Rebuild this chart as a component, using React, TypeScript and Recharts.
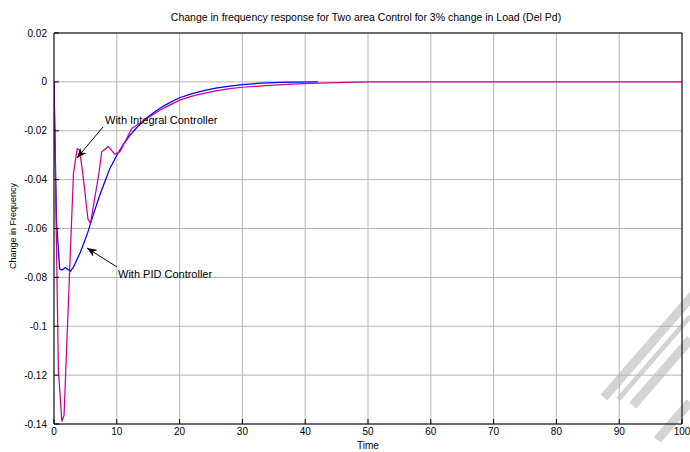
import React from 'react';
import { LineChart, Line, XAxis, YAxis, CartesianGrid } from 'recharts';

// With Integral Controller (magenta)
const integralT = [0, 0.7, 1.25, 1.6, 2.6, 3.1, 3.7, 4.1, 4.7, 5.4, 5.8, 7.15, 7.6, 8.65, 9.7, 10.5, 11.6, 12.4, 13.7, 15.3, 16.9, 18.5, 20, 22, 24, 26, 28, 30, 32, 35, 38, 41, 45, 50, 60, 70, 80, 90, 100];
const integralV = [0, -0.118, -0.139, -0.1365, -0.07, -0.0375, -0.0273, -0.028, -0.04, -0.056, -0.058, -0.0375, -0.0286, -0.0265, -0.0296, -0.0286, -0.0231, -0.019, -0.0169, -0.0142, -0.0115, -0.0094, -0.0075, -0.0058, -0.0046, -0.0036, -0.0028, -0.0022, -0.0018, -0.0013, -0.0009, -0.0006, -0.0003, 0, 0, 0, 0, 0, 0];

// With PID Controller (blue)
const pidT = [0, 0.4, 0.9, 1.3, 1.8, 2.6, 3.1, 4.2, 5.3, 6.3, 7.2, 8, 8.9, 10, 11, 12, 13, 14, 15, 16, 17, 18, 19, 20, 22, 24, 26, 28, 30, 33, 36, 39, 42];
const pidV = [0, -0.057, -0.0765, -0.077, -0.076, -0.0775, -0.0758, -0.0697, -0.0622, -0.054, -0.047, -0.0415, -0.0354, -0.03, -0.0258, -0.0222, -0.0192, -0.0166, -0.0143, -0.0123, -0.0106, -0.0091, -0.0077, -0.0065, -0.0048, -0.0035, -0.0025, -0.0017, -0.0011, -0.0005, -0.0002, -0.0001, 0];

const xTicks = [0, 10, 20, 30, 40, 50, 60, 70, 80, 90, 100];
const yTicks = [0.02, 0, -0.02, -0.04, -0.06, -0.08, -0.1, -0.12, -0.14];

const title = 'Change in frequency response for Two area Control for 3% change in Load (Del Pd)';
const xLabel = 'Time';
const yLabel = 'Change in Frequency';
const integralNote = 'With Integral Controller';
const pidNote = 'With PID Controller';

const integralData = integralT.map((t, i) => ({ t, v: integralV[i] }));
const pidData = pidT.map((t, i) => ({ t, v: pidV[i] }));

const FONT = '"Liberation Sans", Arial, Helvetica, sans-serif';
const tickStyle = { fontSize: 10, fill: '#000', fontFamily: FONT };

export default function App() {
  return (
    <div style={{ position: 'absolute', left: 0, top: 0, width: 690, height: 452, background: '#fff', fontFamily: FONT }}>
      {/* faint watermark stripes behind the chart */}
      <svg width={690} height={452} style={{ position: 'absolute', left: 0, top: 0 }}>
        <g transform="matrix(0.656 -0.755 0.755 0.656 0 0)" fill="#d4d4d4">
          <rect x={96} y={712} width={136} height={9} />
          <rect x={104} y={726} width={110} height={5} />
          <rect x={109} y={739} width={88} height={9} />
          <rect x={99} y={780} width={50} height={9} />
        </g>
      </svg>
      <div style={{ position: 'absolute', left: 0, top: 0 }}>
        <LineChart width={690} height={452} margin={{ top: 32, right: 7, bottom: 27, left: 53 }}>
          <CartesianGrid xAxisId="b" yAxisId="l" stroke="#b4b4b4" strokeWidth={1} />
          <XAxis xAxisId="b" type="number" dataKey="t" domain={[0, 100]} ticks={xTicks} height={1}
            axisLine={{ stroke: '#000' }} tickLine={{ stroke: '#000' }} tickSize={-5} tickMargin={9}
            tick={tickStyle} allowDataOverflow interval={0} />
          <XAxis xAxisId="t" orientation="top" type="number" dataKey="t" domain={[0, 100]} ticks={xTicks} height={1}
            axisLine={{ stroke: '#000' }} tickLine={{ stroke: '#000' }} tickSize={-5} tick={false} allowDataOverflow interval={0} />
          <YAxis yAxisId="l" type="number" domain={[-0.14, 0.02]} ticks={yTicks} width={1}
            axisLine={{ stroke: '#000' }} tickLine={{ stroke: '#000' }} tickSize={-5} tickMargin={12}
            tick={tickStyle} allowDataOverflow interval={0} tickFormatter={(v: number) => String(v)} />
          <YAxis yAxisId="r" orientation="right" type="number" domain={[-0.14, 0.02]} ticks={yTicks} width={1}
            axisLine={{ stroke: '#000' }} tickLine={{ stroke: '#000' }} tickSize={-5} tick={false} allowDataOverflow interval={0} />
          <Line xAxisId="b" yAxisId="l" data={pidData} dataKey="v" type="linear" stroke="#0000ff" strokeWidth={1.25} dot={false} isAnimationActive={false} />
          <Line xAxisId="b" yAxisId="l" data={integralData} dataKey="v" type="linear" stroke="#cc0099" strokeWidth={1.25} dot={false} isAnimationActive={false} />
        </LineChart>
      </div>
      <svg width={690} height={452} style={{ position: 'absolute', left: 0, top: 0, pointerEvents: 'none' }}>
        <defs>
          <marker id="arrow" markerWidth="10" markerHeight="8" refX="10" refY="4" orient="auto" markerUnits="userSpaceOnUse">
            <path d="M0,0 L10,4 L0,8 L3,4 Z" fill="#000" />
          </marker>
        </defs>
        <text x={366} y={21} textAnchor="middle" fontSize={10.5} fontFamily={FONT} fill="#000">{title}</text>
        <text x={368} y={449} textAnchor="middle" fontSize={10} fontFamily={FONT} fill="#000">{xLabel}</text>
        <text x={16} y={226} textAnchor="middle" fontSize={9} fontFamily={FONT} fill="#000" transform="rotate(-90 16 226)">{yLabel}</text>
        <text x={105} y={124} fontSize={11} fontFamily={FONT} fill="#000">{integralNote}</text>
        <text x={118} y={278} fontSize={11} fontFamily={FONT} fill="#000">{pidNote}</text>
        <line x1={103} y1={127} x2={77} y2={158} stroke="#000" strokeWidth={1} markerEnd="url(#arrow)" />
        <line x1={117} y1={267} x2={87} y2={248} stroke="#000" strokeWidth={1} markerEnd="url(#arrow)" />
      </svg>
    </div>
  );
}
